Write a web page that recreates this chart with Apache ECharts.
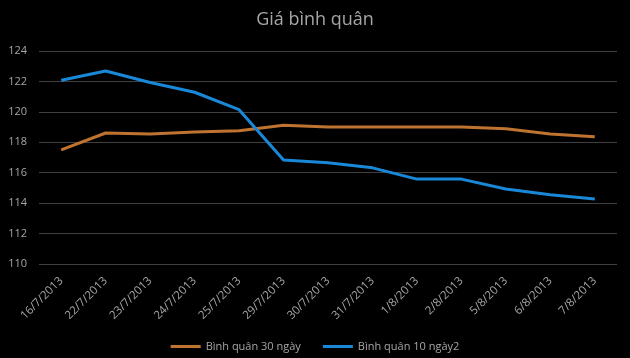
<!DOCTYPE html>
<html>
<head>
<meta charset="utf-8">
<script src="https://cdn.jsdelivr.net/npm/echarts@6/dist/echarts.min.js"></script>
<style>
html,body{margin:0;padding:0;background:#000;}
#c{width:630px;height:358px;}
</style>
</head>
<body>
<div id="c"></div>
<script>
const categories = ['16/7/2013','22/7/2013','23/7/2013','24/7/2013','25/7/2013','29/7/2013','30/7/2013','31/7/2013','1/8/2013','2/8/2013','5/8/2013','6/8/2013','7/8/2013'];
const avg30 = [117.5, 118.61, 118.55, 118.68, 118.76, 119.12, 119.0, 119.0, 119.0, 119.0, 118.89, 118.55, 118.36];
const avg10 = [122.08, 122.69, 121.93, 121.29, 120.14, 116.84, 116.65, 116.32, 115.58, 115.58, 114.93, 114.55, 114.28];
const seriesNames = ['Bình quân 30 ngày', 'Bình quân 10 ngày2'];
const yTicks = {min: 110, max: 124, interval: 2};

const font = 'Open Sans, Noto Sans, sans-serif';
const chart = echarts.init(document.getElementById('c'));
chart.setOption({
  backgroundColor: '#000',
  animation: false,
  title: {
    text: 'Giá bình quân',
    left: 'center',
    top: 6,
    textStyle: {color: '#a6a6a6', fontSize: 18, fontWeight: 'normal', fontFamily: font}
  },
  legend: {
    bottom: 1,
    left: 'center',
    itemWidth: 30,
    itemHeight: 3,
    itemGap: 22,
    icon: 'rect',
    textStyle: {color: '#a6a6a6', fontSize: 11, fontFamily: font},
    data: seriesNames
  },
  grid: {left: 39, right: 13, top: 51, bottom: 94},
  xAxis: {
    type: 'category',
    data: categories,
    boundaryGap: true,
    axisLine: {show: false},
    axisTick: {show: false},
    axisLabel: {color: '#a6a6a6', fontSize: 11.5, fontFamily: font, rotate: 45, margin: 15, interval: 0}
  },
  yAxis: {
    type: 'value',
    min: yTicks.min, max: yTicks.max, interval: yTicks.interval,
    axisLine: {show: false},
    axisTick: {show: false},
    axisLabel: {color: '#a6a6a6', fontSize: 11, fontFamily: font, margin: 12},
    splitLine: {lineStyle: {color: '#404040', width: 1}}
  },
  series: [
    {name: seriesNames[0], type: 'line', data: avg30, symbol: 'none', itemStyle: {color: '#bf7330'}, lineStyle: {color: '#bf7330', width: 3}},
    {name: seriesNames[1], type: 'line', data: avg10, symbol: 'none', itemStyle: {color: '#1a88d8'}, lineStyle: {color: '#1a88d8', width: 3}}
  ]
});
</script>
</body>
</html>
